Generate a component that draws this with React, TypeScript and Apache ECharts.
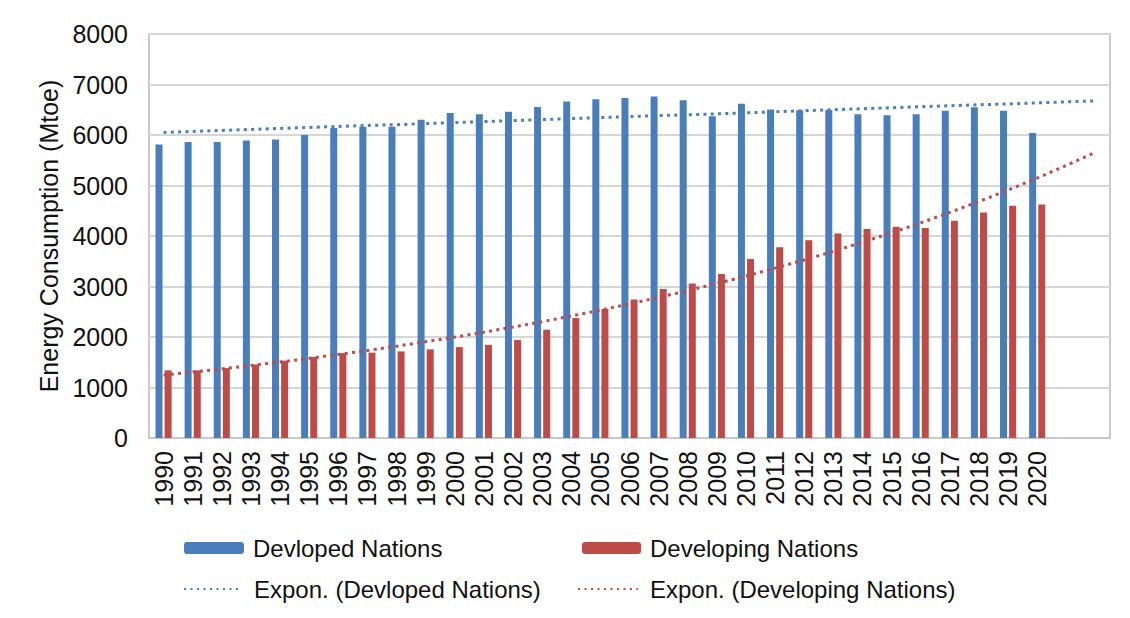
import React, { useEffect, useRef } from "react";
import * as echarts from "echarts";

const years = [
  "1990", "1991", "1992", "1993", "1994", "1995", "1996", "1997", "1998", "1999",
  "2000", "2001", "2002", "2003", "2004", "2005", "2006", "2007", "2008", "2009",
  "2010", "2011", "2012", "2013", "2014", "2015", "2016", "2017", "2018", "2019", "2020",
];
const forecastYears = ["2021", "2022"];

const developed = [
  5810, 5860, 5860, 5890, 5910, 6000, 6140, 6165, 6165, 6300,
  6435, 6410, 6460, 6555, 6665, 6710, 6735, 6760, 6690, 6370,
  6620, 6505, 6490, 6495, 6410, 6390, 6410, 6480, 6550, 6480, 6040,
];
const developing = [
  1340, 1340, 1385, 1455, 1530, 1605, 1680, 1690, 1715, 1755,
  1800, 1845, 1940, 2145, 2375, 2555, 2745, 2950, 3060, 3250,
  3545, 3775, 3915, 4050, 4140, 4185, 4160, 4300, 4465, 4600, 4625,
];
const developedTrend = [
  6050, 6070, 6090, 6110, 6130, 6150, 6170, 6190, 6205, 6225,
  6245, 6265, 6285, 6305, 6325, 6345, 6365, 6385, 6400, 6420,
  6440, 6460, 6480, 6500, 6520, 6540, 6560, 6580, 6600, 6615,
  6635, 6655, 6675,
];
const developingTrend = [
  1245, 1305, 1368, 1435, 1504, 1577, 1654, 1734, 1818, 1906,
  1998, 2095, 2197, 2303, 2415, 2532, 2654, 2783, 2918, 3059,
  3207, 3363, 3526, 3696, 3876, 4063, 4260, 4467, 4683, 4910,
  5148, 5398, 5660,
];

const yTicks = { min: 0, max: 8000, interval: 1000 };
const yTitle = "Energy Consumption (Mtoe)";
const names = {
  developed: "Devloped Nations",
  developing: "Developing Nations",
  developedTrend: "Expon. (Devloped Nations)",
  developingTrend: "Expon. (Developing Nations)",
};

const BLUE = "#4a7ebb";
const RED = "#be4b48";
const FONT = "'Liberation Sans', Arial, sans-serif";

export default function App() {
  const ref = useRef<HTMLDivElement>(null);
  useEffect(() => {
    if (!ref.current) return;
    const chart = echarts.init(ref.current, null, { renderer: "svg" });
    const categories = [...years, ...forecastYears];
    const legendText = { fontSize: 24, fontFamily: FONT, color: "#111", lineHeight: 26 };
    chart.setOption({
      animation: false,
      backgroundColor: "#fff",
      textStyle: { fontFamily: FONT },
      grid: {
        left: 149,
        right: 20,
        top: 34,
        bottom: 180,
        show: true,
        borderColor: "#c9c9c9",
        borderWidth: 2,
        containLabel: false,
      },
      legend: [
        {
          data: [names.developed],
          left: 184,
          top: 535,
          padding: 0,
          itemWidth: 60,
          itemHeight: 12,
          textStyle: { ...legendText, padding: [0, 0, 0, 4] },
        },
        {
          data: [names.developing],
          left: 582,
          top: 535,
          padding: 0,
          itemWidth: 59,
          itemHeight: 12,
          textStyle: { ...legendText, padding: [0, 0, 0, 4] },
        },
        {
          data: [names.developedTrend],
          left: 183,
          top: 576,
          padding: 0,
          itemWidth: 58,
          itemHeight: 12,
          itemStyle: { opacity: 0 },
          lineStyle: { width: 2, type: [2, 4.5] },
          textStyle: { ...legendText, padding: [0, 0, 0, 7] },
        },
        {
          data: [names.developingTrend],
          left: 577,
          top: 576,
          padding: 0,
          itemWidth: 60,
          itemHeight: 12,
          itemStyle: { opacity: 0 },
          lineStyle: { width: 2, type: [2, 4.5] },
          textStyle: { ...legendText, padding: [0, 0, 0, 7] },
        },
      ],
      xAxis: {
        type: "category",
        data: categories,
        boundaryGap: true,
        axisLine: { show: true, lineStyle: { color: "#c9c9c9", width: 2 } },
        axisTick: { show: false },
        axisLabel: {
          rotate: 90,
          margin: 13,
          fontSize: 25,
          color: "#111",
          interval: 0,
          formatter: (v: string) => (years.indexOf(v) >= 0 ? v : ""),
        },
      },
      yAxis: {
        type: "value",
        min: yTicks.min,
        max: yTicks.max,
        interval: yTicks.interval,
        name: yTitle,
        nameLocation: "middle",
        nameGap: 87,
        nameTextStyle: { fontSize: 25, color: "#111", fontFamily: FONT },
        axisLine: { show: false },
        axisTick: { show: false },
        axisLabel: {
          fontSize: 25,
          color: "#111",
          margin: 21,
          formatter: (v: number) => String(v),
        },
        splitLine: { lineStyle: { color: "#d6d6d6", width: 2 } },
      },
      series: [
        {
          name: names.developed,
          type: "bar",
          data: developed,
          barWidth: 7,
          barGap: "30%",
          itemStyle: { color: BLUE },
        },
        {
          name: names.developing,
          type: "bar",
          data: developing,
          barWidth: 7,
          barGap: "30%",
          itemStyle: { color: RED },
        },
        {
          name: names.developedTrend,
          type: "line",
          data: developedTrend,
          symbol: "none",
          smooth: false,
          z: 5,
          itemStyle: { color: BLUE },
          lineStyle: { color: BLUE, width: 3, type: [3, 4.3] },
        },
        {
          name: names.developingTrend,
          type: "line",
          data: developingTrend,
          symbol: "none",
          smooth: false,
          z: 5,
          itemStyle: { color: RED },
          lineStyle: { color: RED, width: 3, type: [3, 4.3] },
        },
      ],
    });
    return () => chart.dispose();
  }, []);
  return (
    <div
      ref={ref}
      style={{ position: "absolute", left: 0, top: 0, width: 1130, height: 618 }}
    />
  );
}
